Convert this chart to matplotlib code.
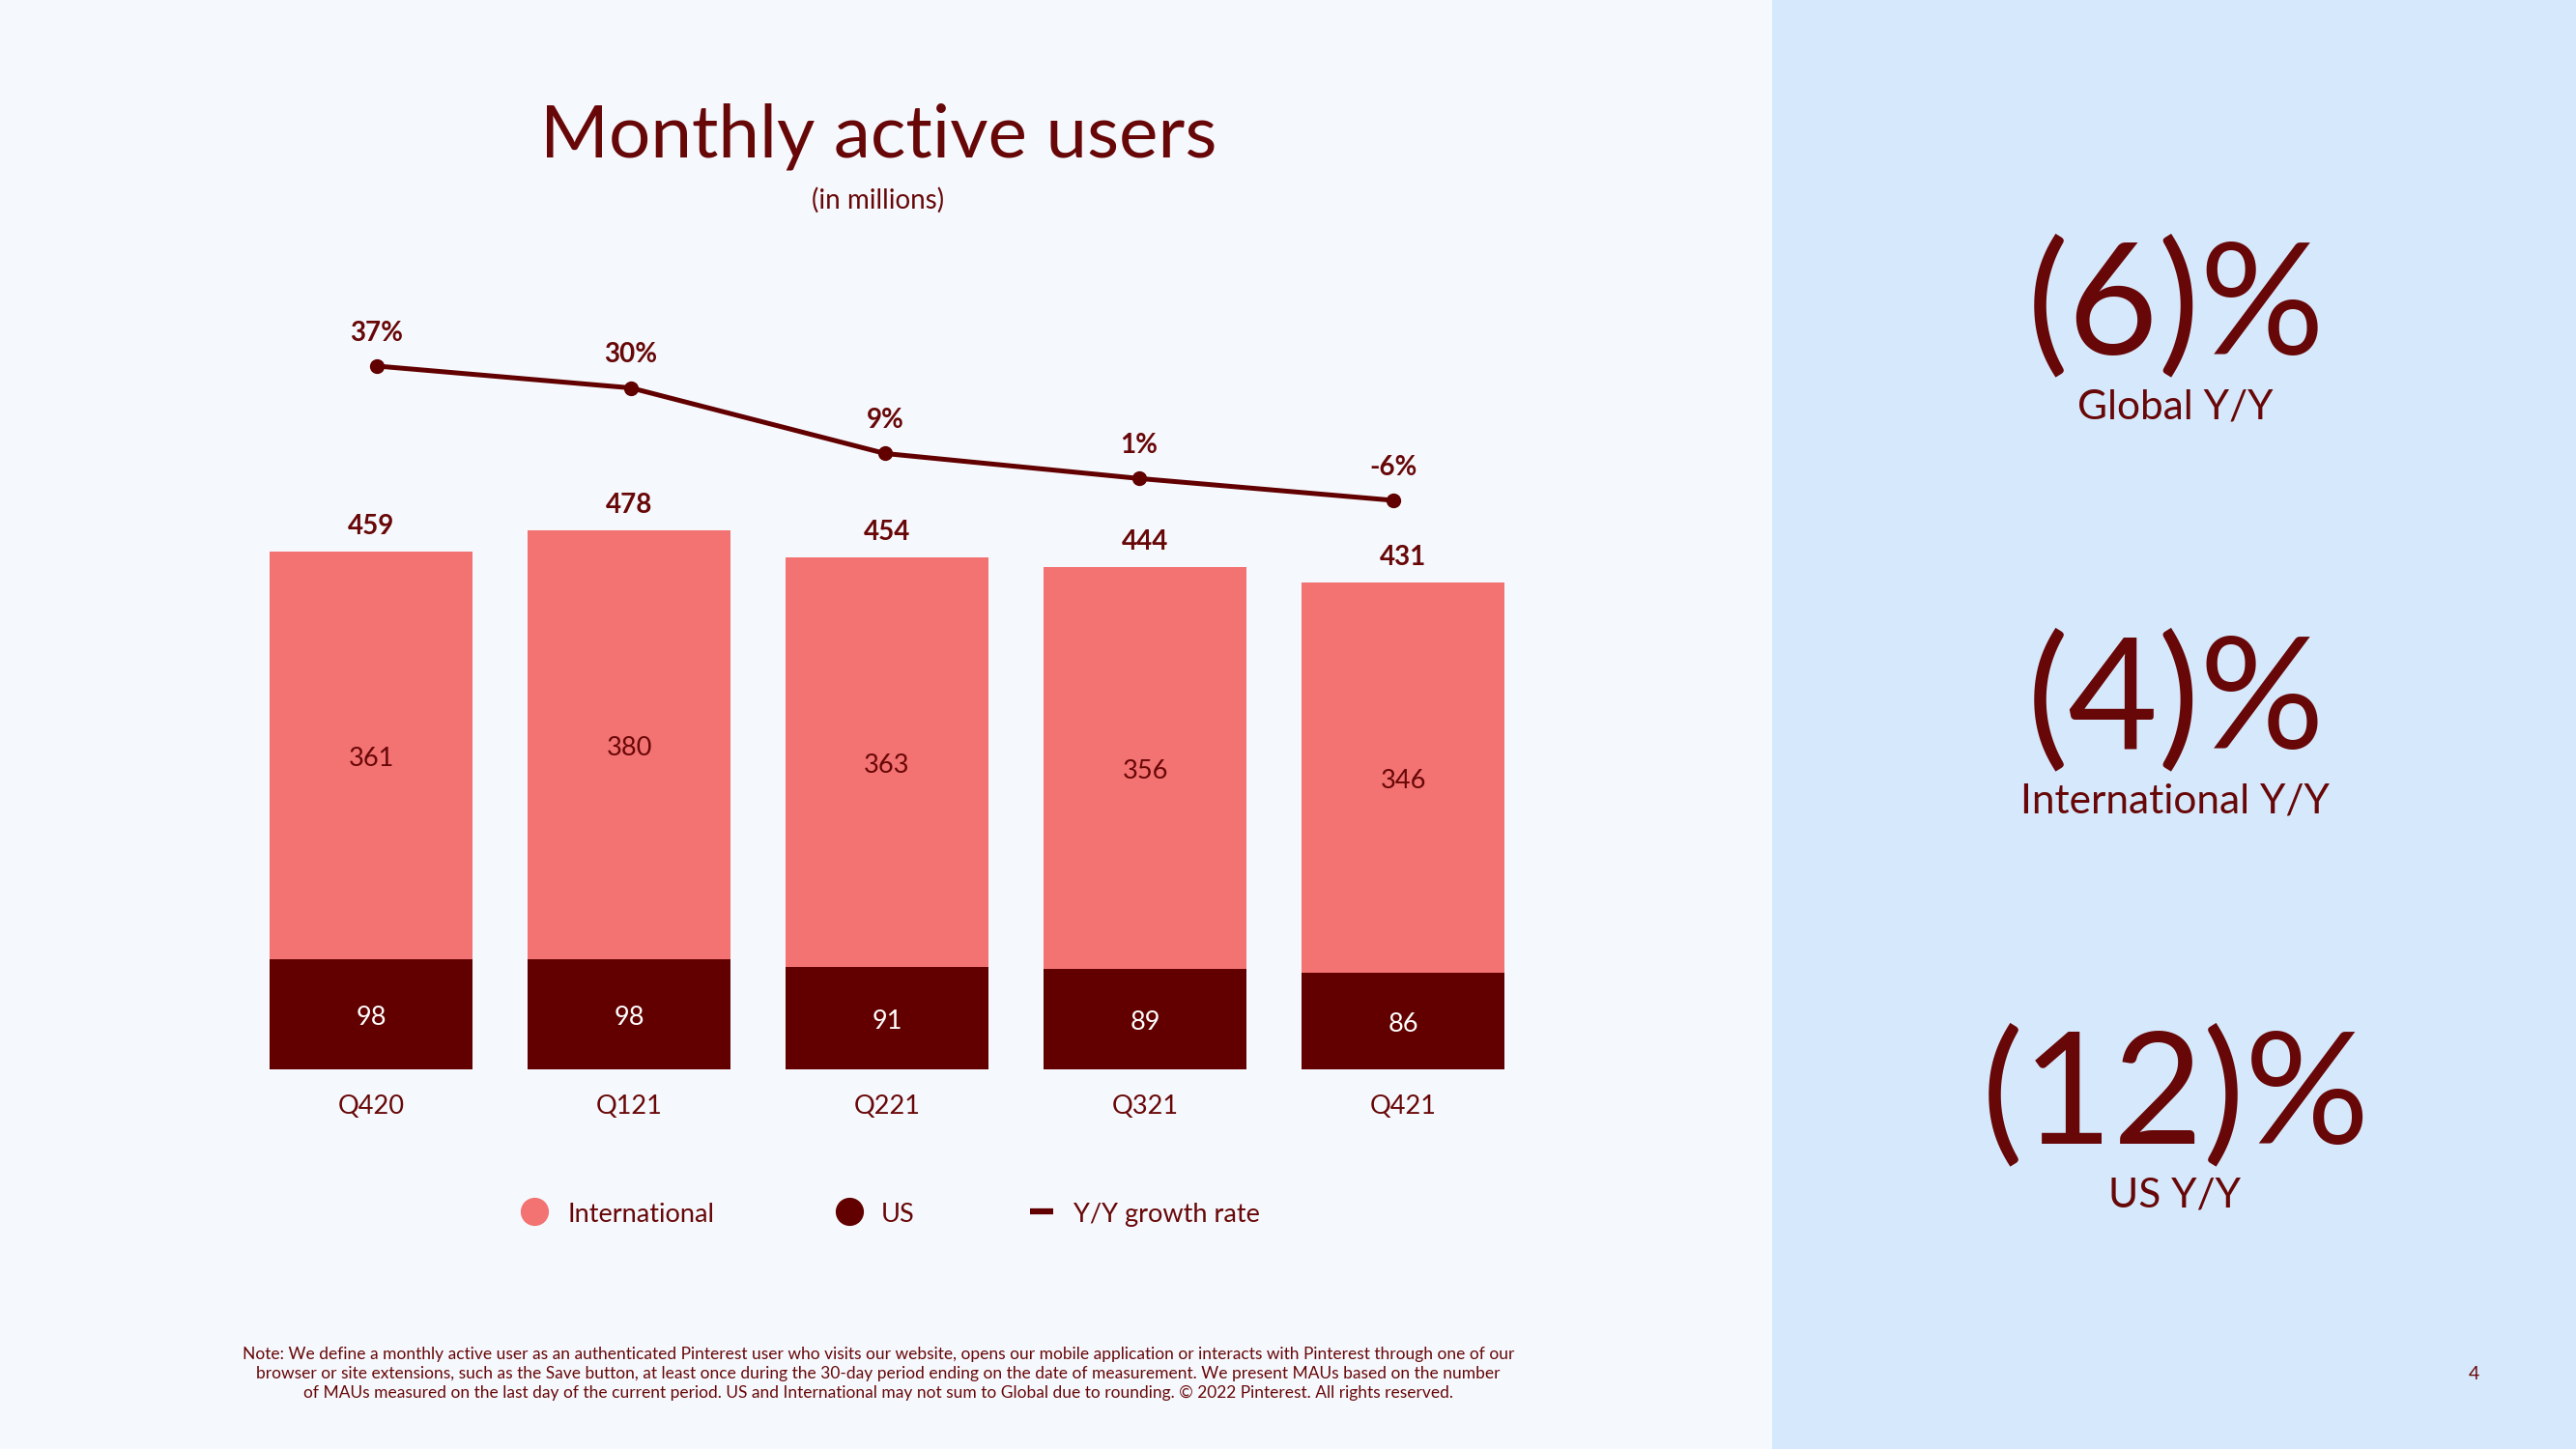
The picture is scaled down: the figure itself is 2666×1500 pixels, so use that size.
import matplotlib
matplotlib.use('Agg')
import matplotlib.pyplot as plt
from matplotlib.patches import Rectangle
from matplotlib.lines import Line2D

# ---------------- data ----------------
quarters = ['Q420', 'Q121', 'Q221', 'Q321', 'Q421']
us_mau = [98, 98, 91, 89, 86]
intl_mau = [361, 380, 363, 356, 346]
global_mau = [459, 478, 454, 444, 431]
yy_growth = [37, 30, 9, 1, -6]
yy_growth_labels = ['37%', '30%', '9%', '1%', '-6%']
kpi_values = ['(6)%', '(4)%', '(12)%']
kpi_labels = ['Global Y/Y', 'International Y/Y', 'US Y/Y']
legend_labels = ['International', 'US', 'Y/Y growth rate']
title = 'Monthly active users'
subtitle = '(in millions)'
footnote = [
    'Note: We define a monthly active user as an authenticated Pinterest user who visits our website, opens our mobile application or interacts with Pinterest through one of our',
    'browser or site extensions, such as the Save button, at least once during the 30-day period ending on the date of measurement. We present MAUs based on the number',
    'of MAUs measured on the last day of the current period. US and International may not sum to Global due to rounding. \u00a9 2022 Pinterest. All rights reserved.',
]
page_number = '4'

# ---------------- style ----------------
BG = '#F5F9FE'
PANEL = '#D6E9FC'
SALMON = '#F37272'
MAROON = '#620000'
TEXT = '#680707'
FONT = ['Lato', 'DejaVu Sans']
plt.rcParams['font.family'] = FONT

W, H = 2666, 1500
fig = plt.figure(figsize=(W / 100, H / 100), dpi=100, facecolor=BG)


def fx(px):
    return px / W


def fy(py):
    return 1 - py / H


fig.add_artist(Rectangle((fx(1834), 0), 1 - fx(1834), 1, transform=fig.transFigure,
                         facecolor=PANEL, edgecolor='none', zorder=0))

ax_left, ax_right, ax_top, ax_bot = 250.5, 1585.5, 173, 1107
rect = [fx(ax_left), fy(ax_bot), (ax_right - ax_left) / W, (ax_bot - ax_top) / H]

ax = fig.add_axes(rect)
ax.set_xlim(-0.5, 4.5)
ax.set_ylim(0, 800)
ax.axis('off')

x = list(range(len(quarters)))
ax.bar(x, us_mau, width=0.785, color=MAROON, zorder=2)
ax.bar(x, intl_mau, width=0.785, bottom=us_mau, color=SALMON, zorder=2)

for i in x:
    ax.annotate(str(us_mau[i]), (i, us_mau[i] / 2), xytext=(0, -8), textcoords='offset points',
                ha='center', va='baseline', color='white', fontsize=19.5)
    ax.annotate(str(intl_mau[i]), (i, us_mau[i] + intl_mau[i] / 2), xytext=(0, -8),
                textcoords='offset points', ha='center', va='baseline', color=TEXT, fontsize=19.5)
    ax.annotate(str(global_mau[i]), (i, us_mau[i] + intl_mau[i]), xytext=(0, 13),
                textcoords='offset points', ha='center', va='baseline', color=TEXT,
                fontsize=20, fontweight='bold')
    ax.annotate(quarters[i], (i, 0), xytext=(0, -33), textcoords='offset points',
                ha='center', va='baseline', color=TEXT, fontsize=19.5)

ax2 = fig.add_axes(rect)
ax2.set_xlim(-0.5304, 4.5456)
ax2.set_ylim(-188.2, 100.7)
ax2.axis('off')
ax2.patch.set_visible(False)
ax2.plot(x, yy_growth, color=MAROON, lw=3.6, marker='o', ms=10, zorder=3)
for i in x:
    ax2.annotate(yy_growth_labels[i], (i, yy_growth[i]), xytext=(0, 19),
                 textcoords='offset points', ha='center', va='baseline', color=TEXT,
                 fontsize=20, fontweight='bold')

# titles
fig.text(fx(909), fy(163), title, ha='center', va='baseline', color=TEXT, fontsize=55)
fig.text(fx(909), fy(216), subtitle, ha='center', va='baseline', color=TEXT, fontsize=20)

# legend
ly = 1254
fig.add_artist(Line2D([fx(553)], [fy(ly)], marker='o', ms=20, color=SALMON, lw=0,
                      transform=fig.transFigure))
fig.text(fx(587), fy(1265), legend_labels[0], ha='left', va='baseline', color=TEXT, fontsize=19.5)
fig.add_artist(Line2D([fx(879)], [fy(ly)], marker='o', ms=20, color=MAROON, lw=0,
                      transform=fig.transFigure))
fig.text(fx(912), fy(1265), legend_labels[1], ha='left', va='baseline', color=TEXT, fontsize=19.5)
fig.add_artist(Line2D([fx(1066), fx(1090)], [fy(ly), fy(ly)], color=MAROON, lw=4.5,
                      solid_capstyle='butt', transform=fig.transFigure))
fig.text(fx(1111), fy(1265), legend_labels[2], ha='left', va='baseline', color=TEXT, fontsize=19.5)

# footnote
for line, base in zip(footnote, [1407, 1427, 1447]):
    fig.text(fx(909), fy(base), line, ha='center', va='baseline', color=TEXT, fontsize=12.5)

# KPI panel
for k, (val, lab) in enumerate(zip(kpi_values, kpi_labels)):
    off = 408.5 * k
    fig.text(fx(2252), fy(366 + off), val, ha='center', va='baseline', color=TEXT, fontsize=116)
    fig.text(fx(2251), fy(433 + off), lab, ha='center', va='baseline', color=TEXT, fontsize=30.5)

fig.text(fx(2560), fy(1428), page_number, ha='center', va='baseline', color=TEXT, fontsize=14)

fig.savefig('out.png', dpi=100, facecolor=BG)
